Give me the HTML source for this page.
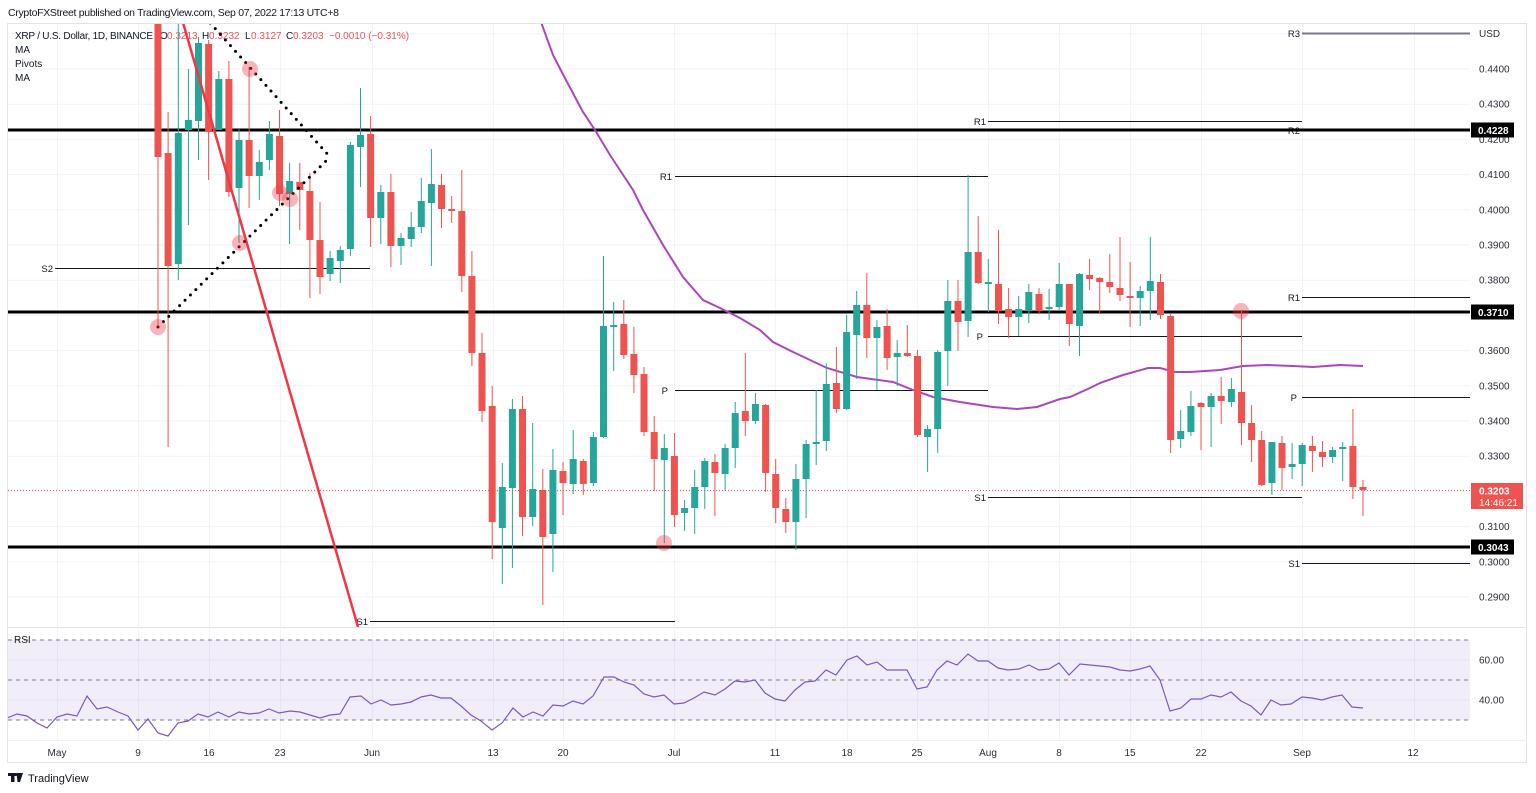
<!DOCTYPE html>
<html><head><meta charset="utf-8"><style>
html,body{margin:0;padding:0;background:#fff;}
svg{display:block;}
text{font-family:"Liberation Sans",Arial,sans-serif;}
</style></head><body>
<svg width="1536" height="793" viewBox="0 0 1536 793" xmlns="http://www.w3.org/2000/svg">
<defs>
<clipPath id="mp"><rect x="8" y="24" width="1462" height="603"/></clipPath>
<clipPath id="rp"><rect x="8" y="629" width="1462" height="110"/></clipPath>
</defs>
<rect width="1536" height="793" fill="#fff"/>
<text x="8" y="16" font-size="10.5" fill="#131722" textLength="331">CryptoFXStreet published on TradingView.com, Sep 07, 2022 17:13 UTC+8</text>
<rect x="7.5" y="23.5" width="1519" height="739" fill="none" stroke="#e0e3eb"/>
<line x1="8" y1="627.5" x2="1527" y2="627.5" stroke="#e0e3eb"/>
<line x1="8" y1="740.5" x2="1527" y2="740.5" stroke="#eef0f4"/>

<!-- grid -->
<g stroke="#f0f3fa" stroke-width="1">
<path d="M8 33.8H1470M8 69H1470M8 104.2H1470M8 139.4H1470M8 174.6H1470M8 209.8H1470M8 245H1470M8 280.2H1470M8 315.4H1470M8 350.6H1470M8 385.8H1470M8 421H1470M8 456.2H1470M8 491.4H1470M8 526.6H1470M8 561.8H1470M8 597H1470"/>
<path d="M57.5 24V740M138.5 24V740M209.5 24V740M280.5 24V740M372.5 24V740M493.5 24V740M563.5 24V740M674.5 24V740M775.5 24V740M847.5 24V740M917.5 24V740M988.5 24V740M1059.5 24V740M1130.5 24V740M1201.5 24V740M1302.5 24V740M1414.5 24V740"/>
<path d="M8 660H1470M8 700H1470"/>
</g>

<!-- header -->
<g font-size="10" fill="#131722">
<text x="15" y="39" textLength="138">XRP / U.S. Dollar, 1D, BINANCE</text>
<text x="160" y="39">O</text><text x="167" y="39" fill="#ef5350">0.3213</text>
<text x="202" y="39">H</text><text x="209" y="39" fill="#ef5350">0.3232</text>
<text x="245" y="39">L</text><text x="251" y="39" fill="#ef5350">0.3127</text>
<text x="286" y="39">C</text><text x="293" y="39" fill="#ef5350">0.3203</text>
<text x="329" y="39" fill="#ef5350">−0.0010 (−0.31%)</text>
<text x="15" y="53">MA</text>
<text x="15" y="67">Pivots</text>
<text x="15" y="81">MA</text>
</g>

<g clip-path="url(#mp)">
<!-- pivots -->
<g stroke="#131722" stroke-width="1">
<path d="M55 268.5H370M370 621.5H675M675 176.5H988M675 390.5H988M988 121.5H1302M988 130.5H1302M988 336.5H1302M988 497.5H1302M1302 297.5H1470M1302 397.5H1470M1302 563.5H1470"/>
</g>
<path d="M1302 33.5H1470" stroke="#787b86" stroke-width="2"/>
<g font-size="9.5" fill="#131722" text-anchor="end">
<text x="53" y="272">S2</text>
<text x="368" y="625">S1</text>
<text x="672" y="180">R1</text>
<text x="668" y="394">P</text>
<text x="986" y="125">R1</text>
<text x="983" y="340">P</text>
<text x="986" y="501">S1</text>
<text x="1300" y="37">R3</text>
<text x="1300" y="134">R2</text>
<text x="1300" y="301">R1</text>
<text x="1297" y="401">P</text>
<text x="1300" y="567">S1</text>
</g>
<!-- thick S/R lines -->
<g stroke="#000" stroke-width="3">
<path d="M8 130H1470M8 312H1470M8 547H1470"/>
</g>
<!-- current price dotted -->
<path d="M8 490.5H1470" stroke="#ef5350" stroke-width="1" stroke-dasharray="1 2"/>

<!-- MA -->
<polyline fill="none" stroke="#ab47bc" stroke-width="2" points="538,16 541,22 553,55 567,82 583,112 595,130 610,155 633,190 643,210 663,245 683,277 703,300 720,308 740,318 760,330 773,342 793,352 827,368 857,377 893,382 913,390 933,397 960,402 993,407 1017,409 1037,407 1060,399 1070,397 1090,388 1100,383 1123,375 1148,368 1160,368 1175,372 1190,372 1220,370 1243,366 1267,365 1293,366 1313,367 1340,365 1363,366"/>

<!-- wicks -->
<path stroke="#ef5350" stroke-width="1" fill="none" d="M158 0V327M168.1 112V447M208.6 40V180M228.9 61V197M249.1 67V208M279.5 110V206M299.8 163V230M309.9 173V298M320 202V294M370.6 116V247M390.9 174V267M441.5 174V228M451.7 196V223M461.8 170V292M471.9 251V366M482 333V422M492.2 386V559M522.5 396V536M542.8 469V605M563 462V515M583.3 459V495M623.8 300V359M633.9 327V393M644 367V436M654.2 416V491M674.4 433V527M714.9 454V516M745.3 353V436M765.6 404V492M775.7 459V523M785.8 498V533M836.4 347V413M866.8 273V358M887.1 309V370M907.3 325V357M917.5 350V437M958 280V351M978.2 216V284M998.5 230V324M1008.6 288V338M1039 288V313M1069.3 284V346M1089.6 259V290M1099.7 277V314M1109.8 254V293M1120 237V301M1130.1 262V327M1160.5 274V319M1170.6 314V453M1201 402V450M1221.2 377V424M1241.5 311V445M1251.6 405V462M1261.7 431V486M1282 436V490M1312.4 436V472M1322.5 441V467M1352.9 409V499M1363 480V516"/>
<path stroke="#26a69a" stroke-width="1" fill="none" d="M178.3 0V280M188.4 69V225M198.5 37V160M218.8 71V130M239 128V243M259.3 150V200M269.4 121V170M289.6 163V244M330.1 251V281M340.3 246V283M350.4 142V256M360.5 88V187M380.8 185V244M401 233V265M411.2 212V247M421.3 178V233M431.4 149V266M502.3 463V584M512.4 399V568M532.7 423V526M552.9 449V572M573.2 430V494M593.4 432V486M603.5 256V438M613.7 302V371M664.3 434V543M684.6 500V531M694.7 470V534M704.8 458V509M725.1 444V491M735.2 402V468M755.4 393V424M795.9 464V550M806.1 440V518M816.2 390V465M826.3 363V451M846.6 315V410M856.7 291V379M876.9 320V390M897.2 340V386M927.6 425V472M937.7 350V453M947.8 280V386M968.1 175V337M988.3 259V312M1018.7 296V336M1028.8 284V323M1049.1 289V320M1059.2 263V311M1079.5 273V356M1140.2 286V326M1150.3 237V320M1180.7 410V448M1190.9 391V436M1211.1 393V447M1231.4 378V407M1271.9 442V495M1292.1 443V479M1302.2 443V486M1332.6 447V463M1342.7 442V481"/>

<!-- bodies red -->
<path fill="#ef5350" d="M154.5 0h7V157h-7zM164.6 153h7V266h-7zM205.1 44h7V132h-7zM225.4 79h7V192h-7zM245.6 140h7V176h-7zM276 136h7V194h-7zM296.3 182h7V190h-7zM306.4 191h7V240h-7zM316.5 240h7V277h-7zM367.1 134h7V218h-7zM387.4 192h7V246h-7zM438 185h7V209h-7zM448.2 209h7V211h-7zM458.3 211h7V276h-7zM468.4 276h7V353h-7zM478.5 353h7V411h-7zM488.7 406h7V522h-7zM519 409h7V517h-7zM539.3 490h7V537h-7zM559.5 471h7V483h-7zM579.8 461h7V484h-7zM620.3 324h7V355h-7zM630.4 354h7V375h-7zM640.5 374h7V432h-7zM650.7 432h7V459h-7zM670.9 456h7V515h-7zM711.4 462h7V473h-7zM741.8 411h7V421h-7zM762.1 405h7V473h-7zM772.2 474h7V508h-7zM782.3 509h7V522h-7zM832.9 383h7V409h-7zM863.3 305h7V338h-7zM883.6 326h7V358h-7zM903.8 353h7V356h-7zM914 356h7V435h-7zM954.5 301h7V322h-7zM974.7 252h7V283h-7zM995 284h7V311h-7zM1005.1 309h7V317h-7zM1035.5 294h7V311h-7zM1065.8 284h7V324h-7zM1086.1 275h7V279h-7zM1096.2 278h7V282h-7zM1106.3 282h7V287h-7zM1116.5 288h7V295h-7zM1126.6 296h7V298h-7zM1157 282h7V315h-7zM1167.1 316h7V440h-7zM1197.5 403h7V407h-7zM1217.7 396h7V401h-7zM1238 392h7V423h-7zM1248.1 423h7V440h-7zM1258.2 440h7V485h-7zM1278.5 443h7V468h-7zM1308.9 446h7V451h-7zM1319 452h7V457h-7zM1349.4 446h7V487h-7zM1359.5 487h7V490h-7z"/>
<!-- bodies green -->
<path fill="#26a69a" d="M174.8 133h7V264h-7zM184.9 120h7V130h-7zM195 43h7V121h-7zM215.3 79h7V130h-7zM235.5 140h7V188h-7zM255.8 162h7V176h-7zM265.9 134h7V160h-7zM286.1 181h7V194h-7zM326.6 258h7V274h-7zM336.8 250h7V261h-7zM346.9 145h7V249h-7zM357 135h7V147h-7zM377.3 192h7V218h-7zM397.5 238h7V246h-7zM407.7 227h7V239h-7zM417.8 201h7V227h-7zM427.9 184h7V203h-7zM498.8 487h7V528h-7zM508.9 409h7V488h-7zM529.2 489h7V517h-7zM549.4 470h7V534h-7zM569.7 459h7V484h-7zM589.9 437h7V483h-7zM600 326h7V437h-7zM610.2 325h7V327h-7zM660.8 448h7V460h-7zM681.1 508h7V513h-7zM691.2 487h7V508h-7zM701.3 461h7V487h-7zM721.6 448h7V474h-7zM731.7 413h7V448h-7zM751.9 404h7V421h-7zM792.4 479h7V522h-7zM802.6 444h7V479h-7zM812.7 442h7V444h-7zM822.8 384h7V441h-7zM843.1 332h7V409h-7zM853.2 305h7V335h-7zM873.4 327h7V338h-7zM893.7 353h7V357h-7zM924.1 429h7V437h-7zM934.2 352h7V429h-7zM944.3 301h7V351h-7zM964.6 252h7V321h-7zM984.8 282h7V284h-7zM1015.2 309h7V317h-7zM1025.3 292h7V311h-7zM1045.6 307h7V309h-7zM1055.7 284h7V307h-7zM1076 274h7V326h-7zM1136.7 291h7V298h-7zM1146.8 281h7V291h-7zM1177.2 431h7V439h-7zM1187.4 406h7V432h-7zM1207.6 396h7V407h-7zM1227.9 389h7V402h-7zM1268.4 442h7V483h-7zM1288.6 464h7V467h-7zM1298.7 445h7V464h-7zM1329.1 450h7V457h-7zM1339.2 447h7V449h-7z"/>

<!-- drawings -->
<line x1="175" y1="-5" x2="358" y2="627" stroke="#f23645" stroke-width="2.5"/>
<g stroke="#000" stroke-width="3" stroke-linecap="round" stroke-dasharray="0 7.6" fill="none">
<path d="M195 6L330 157"/>
<path d="M158 327L330 157"/>
</g>
<g fill="#f23645" fill-opacity="0.38">
<circle cx="158" cy="327" r="8"/>
<circle cx="250" cy="69" r="8"/>
<circle cx="240" cy="243" r="8"/>
<circle cx="280" cy="193" r="8"/>
<circle cx="290" cy="199" r="8"/>
<circle cx="664" cy="543" r="8"/>
<circle cx="1241" cy="311" r="8"/>
</g>
</g>

<!-- RSI pane -->
<rect x="8" y="640" width="1462" height="80" fill="#7e57c2" fill-opacity="0.1"/>
<g stroke="#787b86" stroke-width="1" stroke-dasharray="4 4">
<path d="M8 640H1470M8 680H1470M8 720H1470"/>
</g>
<text x="14" y="643" font-size="10" fill="#131722">RSI</text>
<g clip-path="url(#rp)">
<polyline fill="none" stroke="#7e57c2" stroke-width="1.2" points="7,718 17,714 27,716 37,723 47,728 57,717 67,714 77,716 87,696 97,709 107,707 118,712 128,716 138,730 148,719 158,733 168,736 178,723 188,721 198,714 208,717 218,712 229,717 239,712 249,714 259,713 269,709 279,713 290,711 300,712 310,715 320,718 330,715 340,714 350,697 361,696 371,704 381,700 391,705 401,704 411,702 421,697 431,695 441,698 451,698 461,706 471,715 481,721 492,730 502,723 513,708 523,717 533,712 543,716 553,705 563,706 573,701 583,704 593,696 604,677 614,677 624,682 634,685 644,694 654,697 664,695 674,704 684,703 694,698 704,692 715,695 725,689 735,681 745,682 755,680 765,693 775,699 785,701 795,690 805,682 815,681 826,670 836,675 847,660 857,656 867,665 877,662 887,670 897,670 907,670 917,689 927,687 937,670 947,661 957,665 968,654 978,661 988,661 998,668 1008,670 1019,669 1029,665 1039,670 1049,669 1059,663 1069,675 1080,664 1090,665 1100,666 1110,667 1120,670 1130,671 1140,669 1150,666 1160,680 1170,711 1181,708 1191,699 1201,699 1211,695 1221,697 1231,692 1241,701 1251,706 1261,715 1271,700 1281,705 1291,704 1302,697 1312,698 1322,700 1332,697 1342,695 1352,707 1363,708"/>
</g>

<!-- price axis -->
<g font-size="10" fill="#2a2e39">
<text x="1479" y="37">USD</text>
<text x="1479" y="72.5">0.4400</text>
<text x="1479" y="107.7">0.4300</text>
<text x="1479" y="142.9">0.4200</text>
<text x="1479" y="178.1">0.4100</text>
<text x="1479" y="213.3">0.4000</text>
<text x="1479" y="248.5">0.3900</text>
<text x="1479" y="283.7">0.3800</text>
<text x="1479" y="354.1">0.3600</text>
<text x="1479" y="389.3">0.3500</text>
<text x="1479" y="424.5">0.3400</text>
<text x="1479" y="459.7">0.3300</text>
<text x="1479" y="530.1">0.3100</text>
<text x="1479" y="565.3">0.3000</text>
<text x="1479" y="600.5">0.2900</text>
<text x="1479" y="663.5">60.00</text>
<text x="1479" y="703.5">40.00</text>
</g>
<rect x="1471" y="122.5" width="43" height="15" fill="#000"/>
<rect x="1471" y="304.5" width="43" height="15" fill="#000"/>
<rect x="1471" y="539.5" width="43" height="15" fill="#000"/>
<g font-size="10" font-weight="bold" fill="#fff">
<text x="1478" y="134">0.4228</text>
<text x="1478" y="316">0.3710</text>
<text x="1478" y="551">0.3043</text>
</g>
<rect x="1471" y="483" width="52" height="26" fill="#ef5350"/>
<text x="1479" y="494.5" font-size="10" font-weight="bold" fill="#fff">0.3203</text>
<text x="1479" y="506" font-size="10" fill="#fff">14:46:21</text>

<!-- time axis -->
<g font-size="10" fill="#2a2e39" text-anchor="middle">
<text x="57" y="756">May</text>
<text x="138" y="756">9</text>
<text x="209" y="756">16</text>
<text x="280" y="756">23</text>
<text x="372" y="756">Jun</text>
<text x="493" y="756">13</text>
<text x="563" y="756">20</text>
<text x="674" y="756">Jul</text>
<text x="775" y="756">11</text>
<text x="847" y="756">18</text>
<text x="917" y="756">25</text>
<text x="988" y="756">Aug</text>
<text x="1059" y="756">8</text>
<text x="1130" y="756">15</text>
<text x="1201" y="756">22</text>
<text x="1302" y="756">Sep</text>
<text x="1413" y="756">12</text>
</g>

<!-- logo -->
<g fill="#131722">
<rect x="8" y="773" width="8" height="3"/>
<rect x="11" y="773" width="3.5" height="9"/>
<polygon points="16.5,773 23,773 20,782 17.5,782"/>
<circle cx="17" cy="774.5" r="1.5"/>
</g>
<text x="28" y="782" font-size="11" fill="#131722">TradingView</text>
</svg>
</body></html>
